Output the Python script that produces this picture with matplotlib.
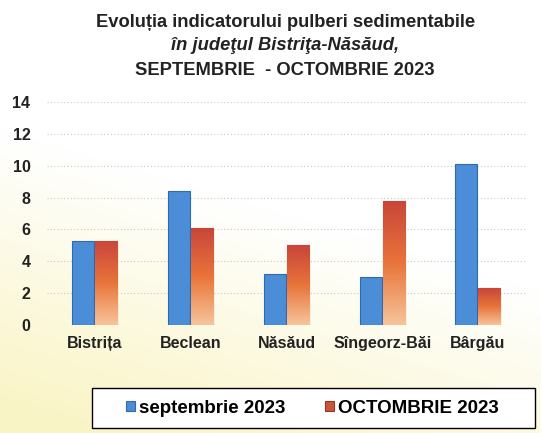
"""Pulberi sedimentabile, Bistrita-Nasaud, Sep-Oct 2023."""

import matplotlib.pyplot as plt
import numpy as np
from matplotlib.patches import Rectangle

plt.rcParams["font.family"] = ["Liberation Sans", "DejaVu Sans"]

stations = ["Bistrița", "Beclean", "Năsăud", "Sîngeorz-Băi", "Bârgău"]
sept_2023 = [5.3, 8.4, 3.2, 3.0, 10.1]
oct_2023 = [5.3, 6.1, 5.0, 7.8, 2.3]
series_labels = ["septembrie 2023", "OCTOMBRIE 2023"]

BLUE = "#4b8dd6"
RED = "#c9553b"

fig = plt.figure(figsize=(5.41, 4.33), dpi=100)

# pale background, slightly yellow toward the bottom left
bg = fig.add_axes([0, 0, 1, 1], zorder=-10)
yy, xx = np.mgrid[0:1:200j, 0:1:200j]
warm = np.clip((0.55 - yy) * 1.6 + (0.4 - xx) * 0.6, 0, 1)
img = np.ones((200, 200, 3))
img[..., 0] = 1.0 - 0.02 * warm
img[..., 1] = 1.0 - 0.04 * warm
img[..., 2] = 1.0 - 0.22 * warm
bg.imshow(img, extent=[0, 1, 0, 1], aspect="auto", origin="lower")
bg.set_xlim(0, 1)
bg.set_ylim(0, 1)
bg.set_axis_off()

ax = fig.add_axes([0.087, 0.2494, 0.885, 0.515])
ax.patch.set_alpha(0)
x = np.arange(len(stations))
w = 0.23
gap = 0.01
b1 = ax.bar(x - w / 2 - gap / 2, sept_2023, w, color=BLUE, edgecolor="#2f6aab",
            linewidth=0.8, label=series_labels[0], zorder=3)
b2 = ax.bar(x + w / 2 + gap / 2, oct_2023, w, color=RED, edgecolor="#8e3a2a",
            linewidth=0.8, label=series_labels[1], zorder=3)

# vertical orange gradient inside the red bars
grad = np.linspace(0, 1, 100).reshape(-1, 1)
cmap = plt.matplotlib.colors.LinearSegmentedColormap.from_list(
    "ox", ["#f6c49a", "#e8743a", "#c9453a"])
for bar in b2:
    bx, by = bar.get_x(), bar.get_y()
    im = ax.imshow(grad, extent=[bx, bx + bar.get_width(), by, by + bar.get_height()],
                   origin="lower", aspect="auto", cmap=cmap, zorder=3.5)
    im.set_clip_path(bar)

ax.set_xlim(-0.5, len(stations) - 0.5)
ax.set_ylim(0, 14)
ax.set_yticks(range(0, 15, 2))
ax.set_xticks(x)
ax.set_xticklabels(stations, fontsize=11.5, fontweight="bold", color="#222222")
ax.tick_params(axis="y", labelsize=11.5, length=0, pad=12, labelcolor="#222222")
ax.tick_params(axis="x", length=0, pad=8)
for lbl in ax.get_yticklabels():
    lbl.set_fontweight("bold")
ax.grid(axis="y", linestyle=(0, (1, 2)), color="#c8c8c8", linewidth=0.8, zorder=0)
for s in ax.spines.values():
    s.set_visible(False)

fig.text(0.527, 0.949, "Evoluția indicatorului pulberi sedimentabile",
         ha="center", va="center", fontsize=13.2, fontweight="bold", color="#222222")
fig.text(0.527, 0.894, "în judeţul Bistriţa-Năsăud,", ha="center", va="center",
         fontsize=13.2, fontweight="bold", style="italic", color="#222222")
fig.text(0.527, 0.838, "SEPTEMBRIE  - OCTOMBRIE 2023", ha="center", va="center",
         fontsize=13.2, fontweight="bold", color="#222222")

# legend frame drawn separately so it can be wider than its entries
fig.add_artist(Rectangle((92 / 541, 5 / 433), 443 / 541, 40 / 433,
                         transform=fig.transFigure, facecolor="white",
                         edgecolor="black", linewidth=1.0, zorder=4))
leg = fig.legend(handles=[b1, b2], labels=series_labels, loc="center",
                 bbox_to_anchor=(0.578, 0.0577), ncol=2, frameon=False,
                 prop={"weight": "bold", "size": 13.5}, handlelength=0.45,
                 handleheight=0.45, handletextpad=0.25, columnspacing=2.1)
leg.set_zorder(5)

fig.savefig("out.png", dpi=100)
